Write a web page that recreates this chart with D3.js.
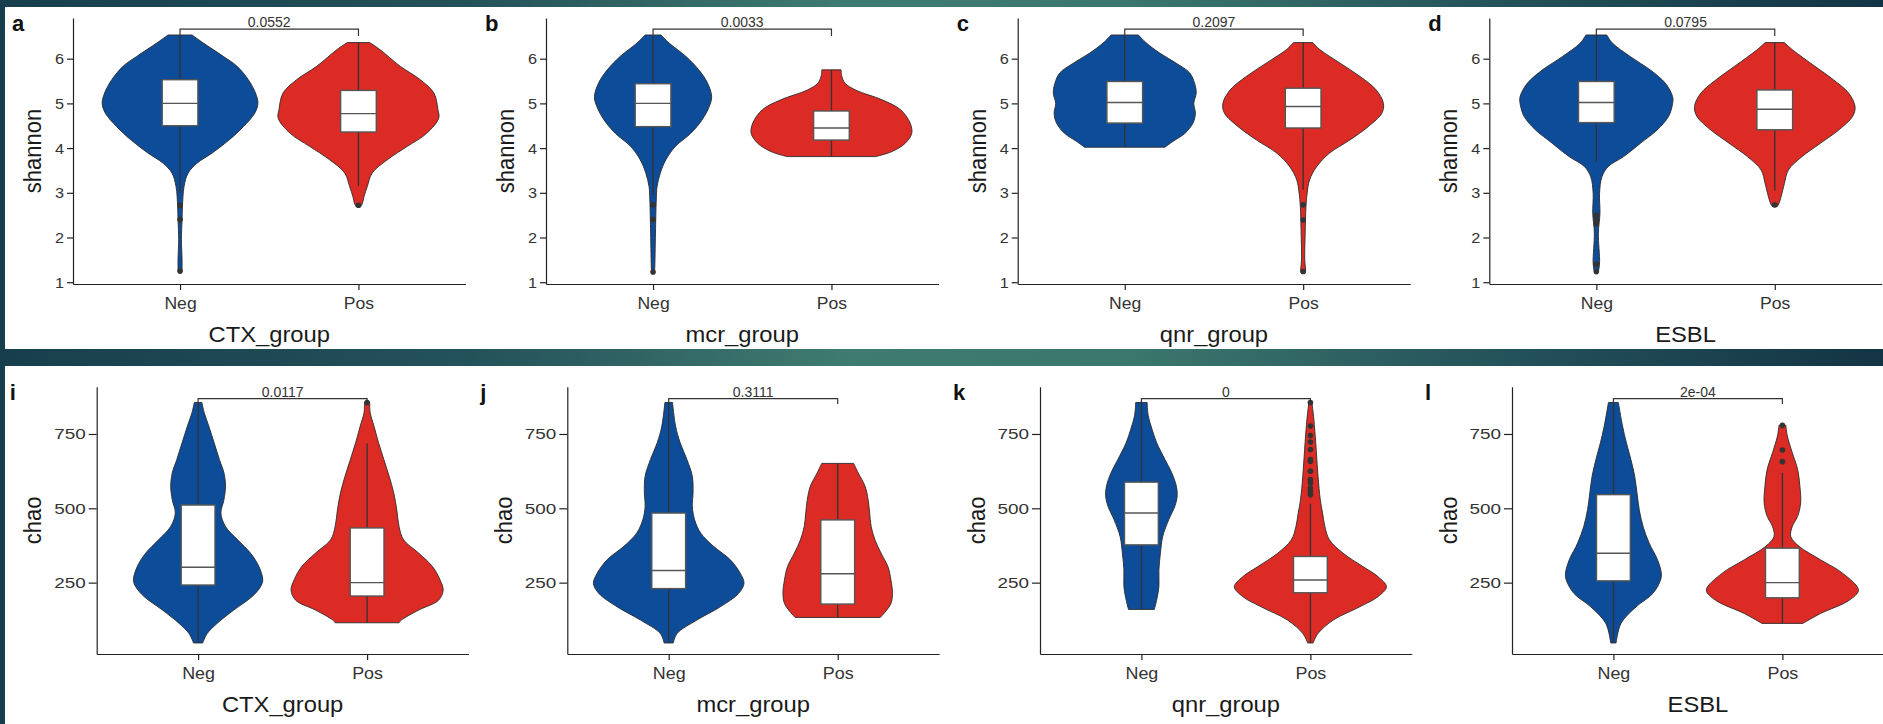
<!DOCTYPE html>
<html><head><meta charset="utf-8">
<script src="https://cdn.jsdelivr.net/npm/d3@7"></script>
<style>
body{margin:0;background:#1a4350;}
svg{display:block;font-family:"Liberation Sans",Arial,sans-serif;}
</style>
</head><body>
<svg id="chart" width="1883" height="724"></svg>
<script>
// ---------------- DATA ----------------
const groups = ["Neg", "Pos"];
const shannonTicks = [1, 2, 3, 4, 5, 6];
const chaoTicks = [250, 500, 750];
const factorNames = ["CTX_group", "mcr_group", "qnr_group", "ESBL"];
const shannonLetters = ["a", "b", "c", "d"];
const chaoLetters = ["i", "j", "k", "l"];
const shannonP = ["0.0552", "0.0033", "0.2097", "0.0795"];
const chaoP = ["0.0117", "0.3111", "0", "2e-04"];
const shannonBracket = [6.66, 6.51];   // bracket level, tip level
const chaoBracket = [869, 851];

// violin profiles: [value, relative density]
const vA_Neg = [[6.53,0.15],[6.35,0.29],[6.05,0.54],[5.83,0.71],[5.53,0.85],[5.23,0.94],[5.00,0.97],[4.78,0.93],[4.48,0.79],[4.18,0.61],[3.89,0.40],[3.66,0.21],[3.44,0.10],[3.14,0.05],[2.69,0.03],[2.39,0.025],[1.95,0.017],[1.50,0.025],[1.24,0.022],[1.20,0.015]];
const vA_Pos = [[6.36,0.14],[6.20,0.27],[5.83,0.52],[5.53,0.77],[5.23,0.94],[4.86,0.99],[4.67,1.0],[4.33,0.85],[4.04,0.61],[3.74,0.36],[3.44,0.17],[3.14,0.11],[2.92,0.07],[2.77,0.05],[2.69,0.03]];
const vB_Neg = [[6.53,0.10],[6.35,0.20],[6.05,0.41],[5.75,0.57],[5.45,0.68],[5.15,0.73],[4.93,0.70],[4.63,0.61],[4.33,0.47],[4.04,0.28],[3.74,0.16],[3.44,0.09],[3.14,0.05],[2.84,0.04],[2.10,0.03],[1.28,0.02],[1.20,0.015]];
const vB_Pos = [[5.75,0.12],[5.60,0.13],[5.45,0.17],[5.30,0.30],[5.08,0.63],[4.86,0.86],[4.56,0.98],[4.33,1.0],[4.11,0.92],[3.92,0.75],[3.81,0.55]];
const vC_Neg = [[6.53,0.17],[6.35,0.27],[6.12,0.44],[5.90,0.64],[5.68,0.81],[5.45,0.87],[5.23,0.89],[5.00,0.86],[4.78,0.88],[4.56,0.85],[4.33,0.75],[4.15,0.60],[4.02,0.50]];
const vC_Pos = [[6.36,0.12],[6.20,0.21],[5.90,0.46],[5.60,0.71],[5.30,0.91],[5.00,1.0],[4.78,0.98],[4.48,0.81],[4.18,0.58],[3.89,0.33],[3.59,0.17],[3.29,0.08],[2.99,0.05],[2.69,0.035],[2.10,0.025],[1.50,0.02],[1.24,0.03],[1.20,0.02]];
const vD_Neg = [[6.53,0.13],[6.35,0.20],[6.05,0.42],[5.75,0.67],[5.45,0.86],[5.15,0.95],[5.00,0.95],[4.71,0.90],[4.41,0.76],[4.11,0.55],[3.81,0.34],[3.59,0.15],[3.36,0.07],[2.99,0.04],[2.54,0.045],[2.10,0.025],[1.43,0.04],[1.24,0.025],[1.19,0.015]];
const vD_Pos = [[6.36,0.12],[6.20,0.22],[5.83,0.50],[5.53,0.73],[5.23,0.92],[4.93,1.0],[4.71,0.97],[4.41,0.80],[4.11,0.57],[3.81,0.34],[3.51,0.17],[3.21,0.12],[2.92,0.08],[2.75,0.05],[2.69,0.03]];

const vI_Neg = [[856,0.05],[822,0.08],[777,0.14],[721,0.21],[664,0.28],[619,0.34],[574,0.36],[529,0.34],[484,0.30],[439,0.36],[394,0.52],[349,0.69],[304,0.80],[259,0.85],[236,0.82],[203,0.71],[158,0.47],[113,0.25],[79,0.12],[47,0.06]];
const vI_Pos = [[856,0.035],[822,0.04],[777,0.09],[721,0.15],[664,0.22],[608,0.29],[552,0.35],[495,0.39],[439,0.42],[394,0.48],[349,0.68],[304,0.86],[259,0.96],[225,1.0],[191,0.94],[158,0.68],[124,0.45],[115,0.42]];
const vJ_Neg = [[856,0.05],[777,0.09],[721,0.15],[664,0.24],[608,0.31],[552,0.32],[507,0.31],[462,0.34],[417,0.42],[372,0.59],[327,0.81],[282,0.94],[248,0.99],[214,0.92],[169,0.68],[124,0.37],[79,0.11],[47,0.06]];
const vJ_Pos = [[651,0.21],[619,0.27],[574,0.36],[529,0.40],[484,0.42],[439,0.44],[394,0.49],[349,0.57],[304,0.66],[259,0.70],[214,0.72],[180,0.70],[150,0.62],[133,0.56]];
const vK_Neg = [[856,0.075],[811,0.09],[766,0.14],[721,0.20],[664,0.31],[619,0.40],[574,0.46],[541,0.47],[507,0.44],[462,0.36],[405,0.28],[349,0.25],[293,0.23],[236,0.23],[191,0.20],[160,0.17]];
const vK_Pos = [[856,0.02],[800,0.045],[721,0.07],[608,0.10],[529,0.13],[484,0.16],[439,0.19],[394,0.25],[349,0.43],[304,0.69],[270,0.89],[236,1.0],[203,0.89],[169,0.65],[124,0.30],[79,0.10],[47,0.035]];
const vL_Neg = [[856,0.065],[777,0.12],[721,0.17],[664,0.23],[608,0.28],[552,0.31],[495,0.34],[439,0.39],[383,0.47],[327,0.58],[282,0.63],[259,0.62],[214,0.52],[169,0.30],[113,0.10],[47,0.035]];
const vL_Pos = [[779,0.045],[743,0.065],[687,0.13],[631,0.20],[574,0.23],[518,0.24],[473,0.20],[439,0.13],[405,0.11],[372,0.22],[327,0.50],[282,0.79],[225,1.0],[191,0.88],[146,0.50],[113,0.27]];

// box stats: [lower whisker, Q1, median, Q3, upper whisker]
const bA_Neg = [3.0, 4.50, 5.00, 5.53, 6.53], oA_Neg = [2.72, 2.40, 1.25];
const bA_Pos = [3.15, 4.36, 4.77, 5.29, 6.36], oA_Pos = [2.72];
const bB_Neg = [2.95, 4.48, 5.00, 5.44, 6.53], oB_Neg = [2.73, 2.40, 1.23];
const bB_Pos = [3.81, 4.18, 4.45, 4.83, 5.75], oB_Pos = [];
const bC_Neg = [4.02, 4.56, 5.02, 5.49, 6.53], oC_Neg = [];
const bC_Pos = [3.07, 4.45, 4.93, 5.34, 6.36], oC_Pos = [2.73, 2.39, 1.24];
const bD_Neg = [3.70, 4.57, 5.02, 5.49, 6.53], oD_Neg = [2.50, 2.39, 2.30, 1.40, 1.24];
const bD_Pos = [3.05, 4.41, 4.87, 5.30, 6.36], oD_Pos = [2.73];

const bI_Neg = [47, 242, 302, 511, 856], oI_Neg = [];
const bI_Pos = [115, 205, 250, 434, 718], oI_Pos = [856];
const bJ_Neg = [47, 230, 291, 484, 856], oJ_Neg = [];
const bJ_Pos = [133, 178, 280, 461, 651], oJ_Pos = [];
const bK_Neg = [160, 377, 484, 588, 856], oK_Neg = [];
const bK_Pos = [47, 216, 259, 338, 516], oK_Pos = [856, 777, 745, 723, 698, 664, 658, 625, 597, 585, 568, 557, 546];
const bL_Neg = [47, 256, 349, 546, 856], oL_Neg = [];
const bL_Pos = [113, 199, 250, 366, 619], oL_Pos = [779, 696, 657];

// ---------------- BUILD PANEL TABLES ----------------
const shannonPanels = [
  {v:[vA_Neg,vA_Pos], b:[bA_Neg,bA_Pos], o:[oA_Neg,oA_Pos]},
  {v:[vB_Neg,vB_Pos], b:[bB_Neg,bB_Pos], o:[oB_Neg,oB_Pos]},
  {v:[vC_Neg,vC_Pos], b:[bC_Neg,bC_Pos], o:[oC_Neg,oC_Pos]},
  {v:[vD_Neg,vD_Pos], b:[bD_Neg,bD_Pos], o:[oD_Neg,oD_Pos]}
];
const chaoPanels = [
  {v:[vI_Neg,vI_Pos], b:[bI_Neg,bI_Pos], o:[oI_Neg,oI_Pos]},
  {v:[vJ_Neg,vJ_Pos], b:[bJ_Neg,bJ_Pos], o:[oJ_Neg,oJ_Pos]},
  {v:[vK_Neg,vK_Pos], b:[bK_Neg,bK_Pos], o:[oK_Neg,oK_Pos]},
  {v:[vL_Neg,vL_Pos], b:[bL_Neg,bL_Pos], o:[oL_Neg,oL_Pos]}
];

// ---------------- LAYOUT / STYLE ----------------
const fills = ["#0d4c99", "#dc2b25"];
const svg = d3.select("#chart");
const defs = svg.append("defs");
const grad = defs.append("linearGradient").attr("id","bg").attr("x1","0").attr("x2","1").attr("y1","0").attr("y2","0");
[["0%","#173e4c"],["25%","#24525a"],["45%","#3f7b70"],["60%","#3b776d"],["80%","#24525a"],["100%","#133444"]]
  .forEach(s => grad.append("stop").attr("offset", s[0]).attr("stop-color", s[1]));
svg.append("rect").attr("width",1883).attr("height",724).attr("fill","url(#bg)");
svg.append("rect").attr("x",5).attr("y",7).attr("width",1878).attr("height",342).attr("fill","#fff");
svg.append("rect").attr("x",5).attr("y",366).attr("width",1878).attr("height",358).attr("fill","#fff");

const topRow = {axisX:[73,546,1017.7,1489.3], width:392.5, yTop:18, yBot:284, domain:[0.96,6.91],
  ticks:shannonTicks, yTickLen:6, yTickPad:3, yTickSx:1.05, xTickSx:1.1, xTickPad:8,
  yTitle:"shannon", yTitleOff:32, letterOff:61, letterY:31, xTitleY:342.3,
  bracket:shannonBracket, letters:shannonLetters, p:shannonP, panels:shannonPanels};
const botRow = {axisX:[96.7,567.3,1040,1512], width:371.8, yTop:386.7, yBot:654, domain:[10,909],
  ticks:chaoTicks, yTickLen:8, yTickPad:3, yTickSx:1.22, xTickSx:1.12, xTickPad:7.5,
  yTitle:"chao", yTitleOff:55.5, letterOff:87, letterY:400, xTitleY:712.3,
  bracket:chaoBracket, letters:chaoLetters, p:chaoP, panels:chaoPanels};

function drawPanel(row, i) {
  const panel = row.panels[i];
  const x0 = row.axisX[i], x1 = x0 + row.width;
  const x = d3.scalePoint().domain(groups).range([x0, x1]).padding(0.6);
  const y = d3.scaleLinear().domain(row.domain).range([row.yBot, row.yTop]);
  const halfW = d3.scaleLinear().domain([0, 1]).range([0, 0.45 * x.step()]);
  const boxHalf = 0.1 * x.step();
  const g = svg.append("g");

  // violins
  groups.forEach((grp, k) => {
    const cx = x(grp);
    const area = d3.area().curve(d3.curveCatmullRom.alpha(0.5))
      .y(d => y(d[0])).x0(d => cx - halfW(d[1])).x1(d => cx + halfW(d[1]));
    g.append("path").attr("d", area(panel.v[k]))
      .attr("fill", fills[k]).attr("stroke", "#2b2b2b").attr("stroke-width", 0.9);
  });
  // boxplots
  groups.forEach((grp, k) => {
    const cx = x(grp);
    const [lo, q1, med, q3, hi] = panel.b[k];
    g.append("line").attr("x1",cx).attr("x2",cx).attr("y1",y(q3)).attr("y2",y(hi))
      .attr("stroke","#333").attr("stroke-width",1.3);
    g.append("line").attr("x1",cx).attr("x2",cx).attr("y1",y(q1)).attr("y2",y(lo))
      .attr("stroke","#333").attr("stroke-width",1.3);
    g.append("rect").attr("x",cx-boxHalf).attr("width",2*boxHalf)
      .attr("y",y(q3)).attr("height",y(q1)-y(q3))
      .attr("fill","#fff").attr("stroke","#555").attr("stroke-width",1.4);
    g.append("line").attr("x1",cx-boxHalf).attr("x2",cx+boxHalf).attr("y1",y(med)).attr("y2",y(med))
      .attr("stroke","#555").attr("stroke-width",1.4);
    g.selectAll(null).data(panel.o[k]).enter().append("circle")
      .attr("cx",cx).attr("cy",d=>y(d)).attr("r",2.8).attr("fill","#333");
  });

  // axes
  const ya = g.append("g").attr("transform",`translate(${x0},0)`)
    .call(d3.axisLeft(y).tickValues(row.ticks).tickFormat(d3.format("d"))
      .tickSize(row.yTickLen).tickSizeOuter(0).tickPadding(row.yTickPad));
  const xa = g.append("g").attr("transform",`translate(0,${row.yBot})`)
    .call(d3.axisBottom(x).tickSize(6).tickSizeOuter(0).tickPadding(row.xTickPad));
  [ya, xa].forEach(a => {
    a.selectAll("path,line").attr("stroke","#222").attr("stroke-width",1.2);
    a.selectAll("text").attr("fill","#333").attr("font-size",15.5).attr("font-family","Liberation Sans, Arial, sans-serif");
  });
  ya.selectAll(".tick text")
    .attr("x", -(row.yTickLen + row.yTickPad) / row.yTickSx)
    .attr("transform", `scale(${row.yTickSx},1)`);
  xa.selectAll(".tick text").attr("font-size",16).attr("transform", `scale(${row.xTickSx},1)`);

  // bracket
  const xa1 = x(groups[0]), xb = x(groups[1]);
  const by = y(row.bracket[0]), ty = y(row.bracket[1]);
  g.append("path").attr("d", `M${xa1},${ty}V${by}H${xb}V${ty}`)
    .attr("fill","none").attr("stroke","#333").attr("stroke-width",1.2);
  g.append("text").attr("x",(xa1+xb)/2).attr("y",by-2).attr("text-anchor","middle")
    .attr("font-size",14).attr("fill","#333").text(row.p[i]);

  // titles
  g.append("text").attr("transform",`translate(${(x0+x1)/2},${row.xTitleY}) scale(1.08,1)`)
    .attr("text-anchor","middle").attr("font-size",22).attr("fill","#1a1a1a").text(factorNames[i]);
  g.append("text").attr("transform",`translate(${x0-row.yTitleOff},${(row.yTop+row.yBot)/2}) scale(1.1,1) rotate(-90)`)
    .attr("text-anchor","middle").attr("font-size",22).attr("fill","#1a1a1a").text(row.yTitle);
  g.append("text").attr("x",x0-row.letterOff).attr("y",row.letterY)
    .attr("font-size",22).attr("font-weight","bold").attr("fill","#111").text(row.letters[i]);
}

[topRow, botRow].forEach(row => row.panels.forEach((p, i) => drawPanel(row, i)));
</script>
</body></html>
